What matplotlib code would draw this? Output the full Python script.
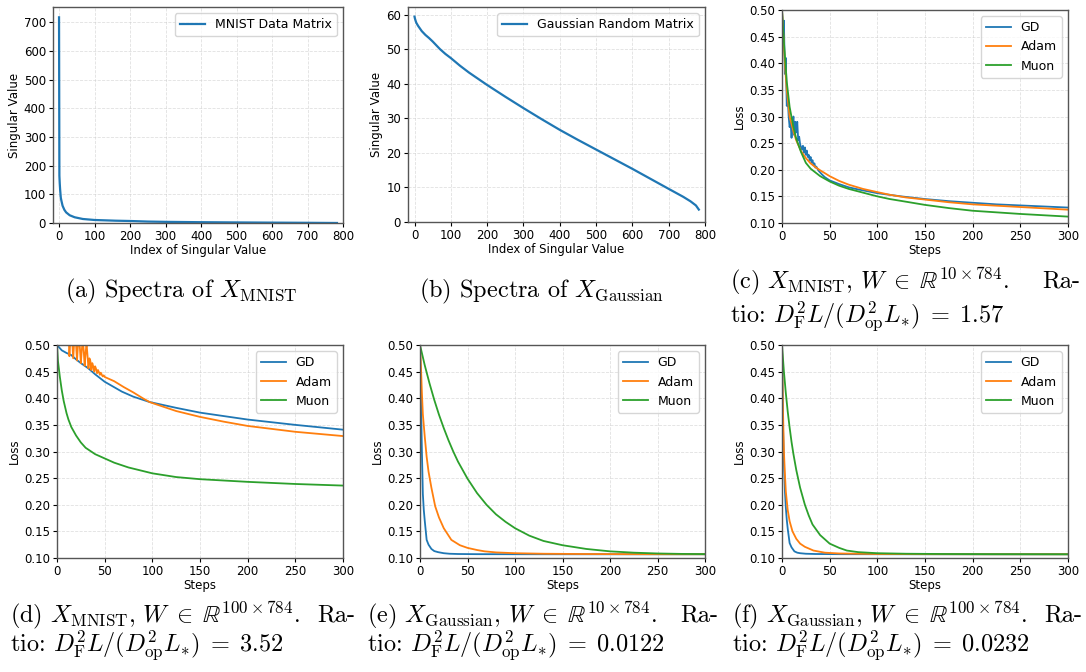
import matplotlib
matplotlib.use("Agg")
import matplotlib.pyplot as plt

plt.rcParams['mathtext.fontset'] = 'cm'

# ---------------- data ----------------
mnist_idx = [0, 1, 2, 3, 5, 7, 10, 15, 20, 30, 44, 67, 100, 160, 200, 250, 300, 400, 500, 600, 700, 783]
mnist_sv = [717, 165, 138, 118, 88, 76, 60, 46, 37, 27, 20, 14, 10.5, 8, 7, 5, 4, 2.8, 2.0, 1.3, 0.7, 0.05]

gauss_idx = [0, 1, 3, 5, 10, 20, 30, 40, 50, 60, 70, 85, 100, 125, 150, 175, 200, 250, 300, 350, 400,
             450, 500, 550, 600, 650, 700, 740, 760, 775, 783]
gauss_sv = [59.5, 59.0, 58.3, 57.7, 56.8, 55.3, 54.2, 53.3, 52.3, 51.2, 50.1, 48.7, 47.5, 45.3, 43.3, 41.5,
            39.7, 36.3, 33.0, 29.8, 26.7, 23.8, 21.0, 18.2, 15.4, 12.5, 9.6, 7.3, 6.0, 4.8, 3.6]

# (c) MNIST, W 10x784
c_gd_steps = list(range(0, 37)) + [38, 40, 42, 45, 50, 60, 70, 80, 100, 125, 150, 175, 200, 225, 250, 275, 300]
c_gd_loss = [0.50, 0.45, 0.48, 0.38, 0.41, 0.32, 0.335, 0.30, 0.28, 0.29, 0.26, 0.285, 0.30, 0.265, 0.29,
             0.27, 0.29, 0.255, 0.262, 0.248, 0.242, 0.238, 0.245, 0.232, 0.242, 0.228, 0.236, 0.224,
             0.228, 0.218, 0.224, 0.214, 0.218, 0.208, 0.212, 0.204, 0.206,
             0.199, 0.195, 0.191, 0.186, 0.180, 0.173, 0.167, 0.163, 0.156, 0.150, 0.145, 0.141, 0.138,
             0.135, 0.133, 0.131, 0.129]
c_adam_steps = [0, 3, 5, 8, 12, 15, 20, 25, 30, 35, 40, 50, 60, 70, 85, 100, 113, 130, 150, 175, 200, 250, 300]
c_adam_loss = [0.50, 0.40, 0.35, 0.30, 0.272, 0.255, 0.235, 0.222, 0.212, 0.205, 0.199, 0.188, 0.179, 0.172,
               0.164, 0.158, 0.153, 0.148, 0.144, 0.139, 0.135, 0.130, 0.125]
c_muon_steps = [0, 2, 5, 8, 12, 15, 20, 25, 30, 40, 50, 60, 70, 85, 100, 113, 130, 150, 175, 200, 250, 300]
c_muon_loss = [0.50, 0.44, 0.365, 0.318, 0.28, 0.258, 0.233, 0.213, 0.202, 0.188, 0.178, 0.170, 0.164, 0.157,
               0.150, 0.145, 0.140, 0.134, 0.128, 0.123, 0.117, 0.112]

# (d) MNIST, W 100x784
d_gd_steps = [0, 5, 10, 15, 20, 25, 33, 40, 50, 68, 80, 97, 125, 150, 200, 250, 300]
d_gd_loss = [0.50, 0.490, 0.485, 0.481, 0.473, 0.466, 0.456, 0.445, 0.431, 0.4125, 0.403, 0.393, 0.382,
             0.373, 0.360, 0.350, 0.341]
d_adam_steps = list(range(0, 51)) + [55, 60, 70, 80, 90, 97, 100, 125, 150, 175, 200, 250, 300]
d_adam_loss = [0.50, 0.62, 0.66, 0.64, 0.62, 0.60, 0.59, 0.58, 0.57, 0.56, 0.55, 0.54, 0.53, 0.479, 0.51,
               0.525, 0.505, 0.475, 0.505, 0.52, 0.50, 0.471, 0.50, 0.515, 0.495, 0.466, 0.49, 0.51, 0.49,
               0.461, 0.485, 0.503, 0.48, 0.456, 0.475, 0.47, 0.453, 0.466, 0.46, 0.450, 0.46, 0.455, 0.447,
               0.453, 0.449, 0.444, 0.448, 0.444, 0.441, 0.443, 0.440,
               0.436, 0.432, 0.421, 0.411, 0.400, 0.393, 0.391, 0.376, 0.365, 0.356, 0.348, 0.337, 0.329]
d_muon_steps = [0, 1, 2, 3, 5, 7, 10, 12, 15, 20, 25, 30, 40, 50, 60, 75, 100, 125, 150, 200, 250, 300]
d_muon_loss = [0.50, 0.47, 0.455, 0.44, 0.415, 0.395, 0.372, 0.36, 0.346, 0.33, 0.317, 0.307, 0.295, 0.287,
               0.279, 0.270, 0.259, 0.252, 0.248, 0.243, 0.239, 0.236]

# (e) Gaussian, W 10x784
e_gd_steps = [0, 1, 2, 3, 4, 5, 7, 9, 12, 15, 19, 25, 31, 40, 60, 100, 200, 300]
e_gd_loss = [0.50, 0.40, 0.30, 0.22, 0.19, 0.17, 0.134, 0.125, 0.117, 0.113, 0.111, 0.109, 0.108, 0.1075,
             0.1072, 0.1071, 0.107, 0.107]
e_adam_steps = [0, 1, 2, 3, 5, 7, 9, 12, 16, 20, 25, 33, 42, 50, 60, 68, 80, 100, 130, 170, 220, 300]
e_adam_loss = [0.50, 0.46, 0.41, 0.37, 0.328, 0.29, 0.262, 0.232, 0.197, 0.176, 0.156, 0.134, 0.124, 0.119,
               0.115, 0.1125, 0.1105, 0.109, 0.108, 0.1075, 0.1072, 0.107]
e_muon_steps = [0, 5, 10, 15, 20, 25, 30, 35, 40, 50, 60, 70, 80, 90, 100, 115, 130, 150, 175, 200, 225, 250,
                275, 300]
e_muon_loss = [0.50, 0.462, 0.428, 0.397, 0.369, 0.344, 0.321, 0.300, 0.281, 0.249, 0.222, 0.200, 0.182,
               0.168, 0.156, 0.142, 0.132, 0.124, 0.117, 0.1125, 0.110, 0.1085, 0.1077, 0.1073]

# (f) Gaussian, W 100x784
f_gd_steps = [0, 1, 2, 3, 4, 5, 6, 8, 10, 13, 16, 19, 25, 35, 60, 100, 200, 300]
f_gd_loss = [0.50, 0.35, 0.28, 0.228, 0.195, 0.172, 0.155, 0.128, 0.12, 0.1125, 0.110, 0.109, 0.108, 0.1075,
             0.1072, 0.1071, 0.107, 0.107]
f_adam_steps = [0, 1, 2, 3, 4, 6, 8, 11, 15, 19, 24, 33, 45, 60, 80, 100, 150, 200, 300]
f_adam_loss = [0.50, 0.38, 0.30, 0.26, 0.225, 0.19, 0.169, 0.15, 0.136, 0.127, 0.121, 0.114, 0.110, 0.1085,
               0.108, 0.1075, 0.1072, 0.107, 0.107]
f_muon_steps = [0, 2, 4, 6, 8, 10, 12, 15, 19, 24, 28, 32, 40, 50, 60, 68, 80, 100, 130, 170, 220, 300]
f_muon_loss = [0.50, 0.45, 0.41, 0.375, 0.345, 0.318, 0.295, 0.265, 0.232, 0.200, 0.180, 0.163, 0.143, 0.127,
               0.119, 0.114, 0.111, 0.109, 0.108, 0.1075, 0.1072, 0.107]

opt_labels = ['GD', 'Adam', 'Muon']
colors = ['#1f77b4', '#ff7f0e', '#2ca02c']

# ---------------- layout ----------------
W, H = 1086, 672
fig = plt.figure(figsize=(W / 100, H / 100), dpi=100)


def add_ax(l, r, t, b):
    return fig.add_axes([l / W, 1 - b / H, (r - l) / W, (b - t) / H])


FS = 8.5
LFS = 9


def style(ax):
    ax.grid(True, linestyle='--', linewidth=0.6, color='#cccccc', alpha=0.6)
    ax.tick_params(labelsize=FS, length=3, width=0.8, pad=2)
    for s in ax.spines.values():
        s.set_color('#555555')
        s.set_linewidth(1.0)


# (a)
ax = add_ax(53, 343, 7, 223)
ax.plot(mnist_idx, mnist_sv, color=colors[0], lw=1.6, label='MNIST Data Matrix')
ax.set_xlim(-17, 800)
ax.set_ylim(0, 753)
ax.set_xticks(range(0, 801, 100))
ax.set_yticks(range(0, 701, 100))
ax.set_xlabel('Index of Singular Value', fontsize=FS, labelpad=1)
ax.set_ylabel('Singular Value', fontsize=FS, labelpad=2)
ax.legend(loc='upper right', fontsize=LFS)
style(ax)

# (b)
ax = add_ax(408, 705, 7, 222)
ax.plot(gauss_idx, gauss_sv, color=colors[0], lw=1.6, label='Gaussian Random Matrix')
ax.set_xlim(-18, 800)
ax.set_ylim(0, 62.3)
ax.set_xticks(range(0, 801, 100))
ax.set_yticks(range(0, 61, 10))
ax.set_xlabel('Index of Singular Value', fontsize=FS, labelpad=1)
ax.set_ylabel('Singular Value', fontsize=FS, labelpad=2)
ax.legend(loc='upper right', fontsize=LFS)
style(ax)

loss_panels = [
    ((782, 1068, 10, 223), [(c_gd_steps, c_gd_loss), (c_adam_steps, c_adam_loss), (c_muon_steps, c_muon_loss)]),
    ((57, 343, 345, 558), [(d_gd_steps, d_gd_loss), (d_adam_steps, d_adam_loss), (d_muon_steps, d_muon_loss)]),
    ((420, 705, 345, 558), [(e_gd_steps, e_gd_loss), (e_adam_steps, e_adam_loss), (e_muon_steps, e_muon_loss)]),
    ((782, 1068, 345, 558), [(f_gd_steps, f_gd_loss), (f_adam_steps, f_adam_loss), (f_muon_steps, f_muon_loss)]),
]
yt = [0.10, 0.15, 0.20, 0.25, 0.30, 0.35, 0.40, 0.45, 0.50]
for box, series in loss_panels:
    ax = add_ax(*box)
    for (st, ls), lab, col in zip(series, opt_labels, colors):
        ax.plot(st, ls, color=col, lw=1.3, label=lab)
    ax.set_xlim(0, 300)
    ax.set_ylim(0.10, 0.50)
    ax.set_xticks(range(0, 301, 50))
    ax.set_yticks(yt)
    ax.set_yticklabels([f'{v:.2f}' for v in yt])
    ax.set_xlabel('Steps', fontsize=FS, labelpad=1)
    ax.set_ylabel('Loss', fontsize=FS, labelpad=2)
    ax.legend(loc='upper right', fontsize=LFS)
    style(ax)

# ---------------- captions ----------------
CFS = 17.5


def ftext(x, y, s, **kw):
    fig.text(x / W, 1 - y / H, s, fontsize=CFS, family='cmr10', va='baseline', **kw)


ftext(181, 297, r'(a) Spectra of $X_{\mathrm{MNIST}}$', ha='center')
ftext(542, 297, r'(b) Spectra of $X_{\mathrm{Gaussian}}$', ha='center')

caps = [
    (730, 1080, 288, 323, r'(c) $X_{\mathrm{MNIST}},\, W\;\in\;\mathbb{R}^{10\times 784}$.', r'$D_{\mathrm{F}}^{2}L/(D_{\mathrm{op}}^{2}L_{*})\;=\;1.57$'),
    (10, 355, 622, 652, r'(d) $X_{\mathrm{MNIST}},\, W\;\in\;\mathbb{R}^{100\times 784}$.', r'$D_{\mathrm{F}}^{2}L/(D_{\mathrm{op}}^{2}L_{*})\;=\;3.52$'),
    (367, 718, 622, 652, r'(e) $X_{\mathrm{Gaussian}},\, W\;\in\;\mathbb{R}^{10\times 784}$.', r'$D_{\mathrm{F}}^{2}L/(D_{\mathrm{op}}^{2}L_{*})\;=\;0.0122$'),
    (732, 1082, 622, 652, r'(f) $X_{\mathrm{Gaussian}},\, W\;\in\;\mathbb{R}^{100\times 784}$.', r'$D_{\mathrm{F}}^{2}L/(D_{\mathrm{op}}^{2}L_{*})\;=\;0.0232$'),
]
for xl, xr, y1, y2, line1, math2 in caps:
    ftext(xl, y1, line1, ha='left')
    ftext(xr, y1, 'Ra-', ha='right')
    ftext(xl, y2, 'tio: ' + math2, ha='left')

fig.savefig('out.png', dpi=100)
